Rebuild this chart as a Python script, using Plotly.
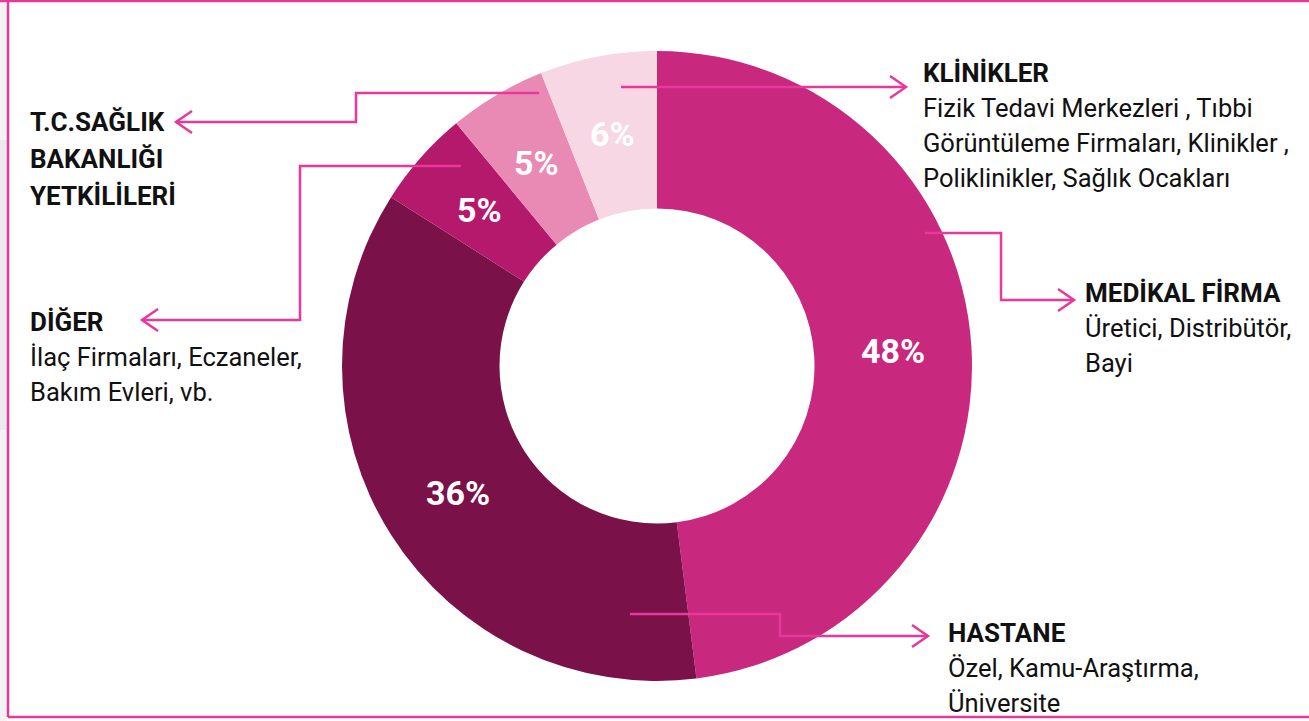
import math
import plotly.graph_objects as go

# ---------------- data ----------------
categories = ["MEDİKAL FİRMA", "HASTANE", "DİĞER",
              "T.C.SAĞLIK BAKANLIĞI YETKİLİLERİ", "KLİNİKLER"]
values = [48, 36, 5, 5, 6]
slice_colors = ["#C8287E", "#7A1148", "#B4196C", "#E98AB4", "#F7D7E3"]

title_lines = [
    ["MEDİKAL FİRMA"],
    ["HASTANE"],
    ["DİĞER"],
    ["T.C.SAĞLIK", "BAKANLIĞI", "YETKİLİLERİ"],
    ["KLİNİKLER"],
]
desc_lines = [
    ["Üretici, Distribütör,", "Bayi"],
    ["Özel, Kamu-Araştırma,", "Üniversite"],
    ["İlaç Firmaları, Eczaneler,", "Bakım Evleri, vb."],
    [],
    ["Fizik Tedavi Merkezleri , Tıbbi", "Görüntüleme Firmaları, Klinikler ,",
     "Poliklinikler, Sağlık Ocakları"],
]

# ---------------- layout constants (pixels) ----------------
W, H = 1309, 721
PINK = "#E8389A"
CX, CY, R = 657, 366, 315
HOLE = 0.5

def px(x):
    return x / W

def py(y):
    return 1 - y / H

# text block anchors: (x, first-line cap-centre y)
block_pos = [(1083, 293), (946, 633), (28, 322), (28, 122), (921, 73)]
line_step = 35

# leader polylines (last point = arrow tip)
leaders = [
    [(925, 233), (1001, 233), (1001, 300), (1074, 300)],
    [(630, 614), (780, 614), (780, 636), (928, 636)],
    [(461, 166), (300, 166), (300, 320), (142, 320)],
    [(539, 93), (356, 93), (356, 122), (176, 122)],
    [(621, 87), (906, 87)],
]

fig = go.Figure()
fig.add_trace(go.Pie(
    labels=categories,
    values=values,
    sort=False,
    direction="clockwise",
    rotation=0,
    hole=HOLE,
    marker=dict(colors=slice_colors, line=dict(width=0)),
    textinfo="none",
    showlegend=False,
    hoverinfo="label+percent",
    domain=dict(x=[px(CX - R), px(CX + R)], y=[py(CY + R), py(CY - R)]),
))

shapes = []
# background strip on the left
shapes.append(dict(type="rect", xref="paper", yref="paper", x0=0, x1=px(7), y0=0, y1=1,
                   fillcolor="#F3F3F4", line=dict(width=0), layer="below"))
shapes.append(dict(type="rect", xref="paper", yref="paper", x0=0, x1=px(7), y0=py(430), y1=py(140),
                   fillcolor="#EAEAEE", line=dict(width=0), layer="below"))
# frame
for (x0, y0, x1, y1) in [(0, 1, W, 1), (8, 0, 8, 717), (8, 717, W, 717)]:
    shapes.append(dict(type="line", xref="paper", yref="paper",
                       x0=px(x0), y0=py(y0), x1=px(x1), y1=py(y1),
                       line=dict(color=PINK, width=2.5)))

# leaders with open arrowheads
for pts in leaders:
    path = "M " + " L ".join(f"{px(x)},{py(y)}" for x, y in pts)
    shapes.append(dict(type="path", xref="paper", yref="paper", path=path,
                       line=dict(color=PINK, width=2.5)))
    (xa, ya), (xt, yt) = pts[-2], pts[-1]
    d = 1 if xt > xa else -1
    head = (f"M {px(xt - d*16)},{py(yt - 11)} L {px(xt)},{py(yt)} "
            f"L {px(xt - d*16)},{py(yt + 11)}")
    shapes.append(dict(type="path", xref="paper", yref="paper", path=head,
                       line=dict(color=PINK, width=2.5)))

annotations = []
# percentage labels at the middle of each ring sector (derived from values)
total = sum(values)
r_mid = R * (1 + HOLE) / 2
cum = 0
for v in values:
    mid = (cum + v / 2) / total * 2 * math.pi
    cum += v
    lx = CX + r_mid * math.sin(mid)
    ly = CY - r_mid * math.cos(mid)
    annotations.append(dict(x=px(lx), y=py(ly), xref="paper", yref="paper",
                            text=f"{v}%", showarrow=False,
                            xanchor="center", yanchor="middle",
                            font=dict(family="Roboto", size=34, color="white", weight="bold")))

for (bx, by), tl, dl in zip(block_pos, title_lines, desc_lines):
    y = by
    for t in tl:
        annotations.append(dict(x=px(bx), y=py(y), xref="paper", yref="paper",
                                text=t, showarrow=False, xanchor="left", yanchor="middle",
                                font=dict(family="Roboto", size=26, color="#111111", weight="bold")))
        y += line_step + 2
    y -= 2
    for t in dl:
        annotations.append(dict(x=px(bx), y=py(y), xref="paper", yref="paper",
                                text=t, showarrow=False, xanchor="left", yanchor="middle",
                                font=dict(family="Roboto", size=25.5, color="#111111")))
        y += line_step

fig.update_layout(
    width=W, height=H,
    margin=dict(l=0, r=0, t=0, b=0),
    paper_bgcolor="white",
    plot_bgcolor="white",
    shapes=shapes,
    annotations=annotations,
    showlegend=False,
)

fig.write_html(
    "out.html",
    config={"displayModeBar": False},
    post_script="document.body.style.margin='0';document.body.style.overflow='hidden';",
)
